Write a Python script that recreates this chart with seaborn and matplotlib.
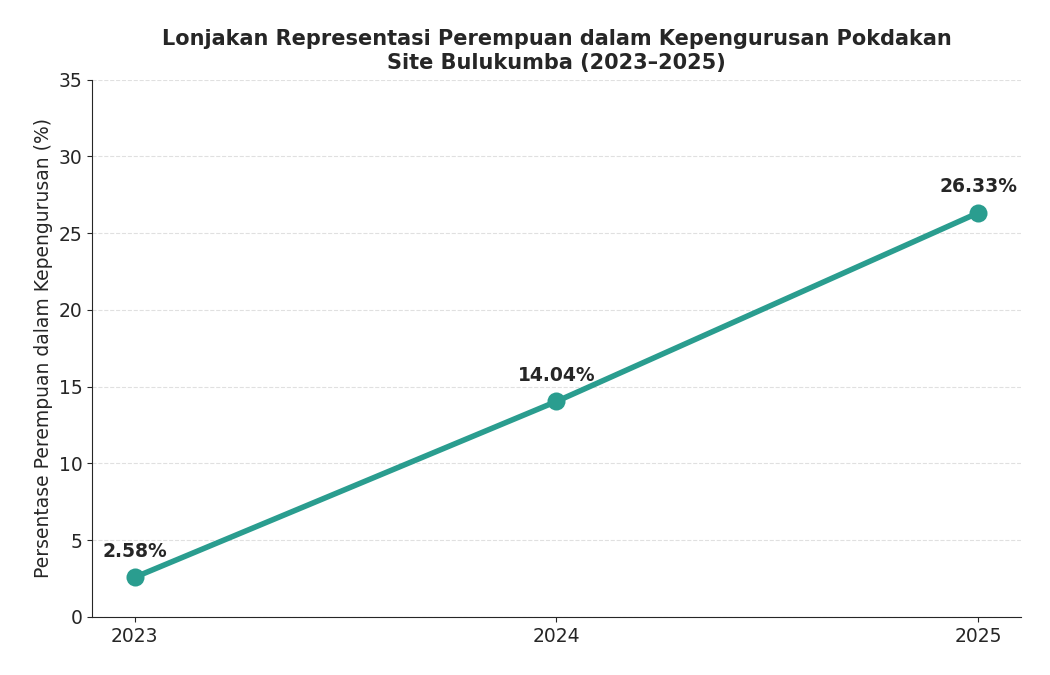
import matplotlib
matplotlib.use('Agg')
import matplotlib.pyplot as plt
import seaborn as sns
import pandas as pd

# Data
years = [2023, 2024, 2025]
persen = [2.58, 14.04, 26.33]
df = pd.DataFrame({'tahun': years, 'persen': persen})

sns.set_style('ticks')
plt.rcParams['font.family'] = ['DejaVu Sans']

fig, ax = plt.subplots(figsize=(10.5, 6.75), dpi=100)
sns.lineplot(data=df, x='tahun', y='persen', color='#2a9d8f', linewidth=4,
             marker='o', markersize=13, markeredgewidth=0, ax=ax)

for x, y in zip(years, persen):
    ax.annotate(f'{y:.2f}%', (x, y), xytext=(0, 12), textcoords='offset points',
                ha='center', va='bottom', fontsize=13.5, fontweight='bold')

ax.set_title('Lonjakan Representasi Perempuan dalam Kepengurusan Pokdakan\nSite Bulukumba (2023–2025)',
             fontsize=15, fontweight='bold', pad=8)
ax.set_xlabel('')
ax.set_ylabel('Persentase Perempuan dalam Kepengurusan (%)', fontsize=13.5)
ax.set_xticks(years)
ax.set_xlim(2022.9, 2025.1)
ax.set_ylim(0, 35)
ax.tick_params(labelsize=13.5)
ax.grid(axis='y', linestyle='--', alpha=0.6)
sns.despine(ax=ax)

plt.subplots_adjust(left=0.088, right=0.972, top=0.882, bottom=0.086)
plt.savefig('out.png', dpi=100)
